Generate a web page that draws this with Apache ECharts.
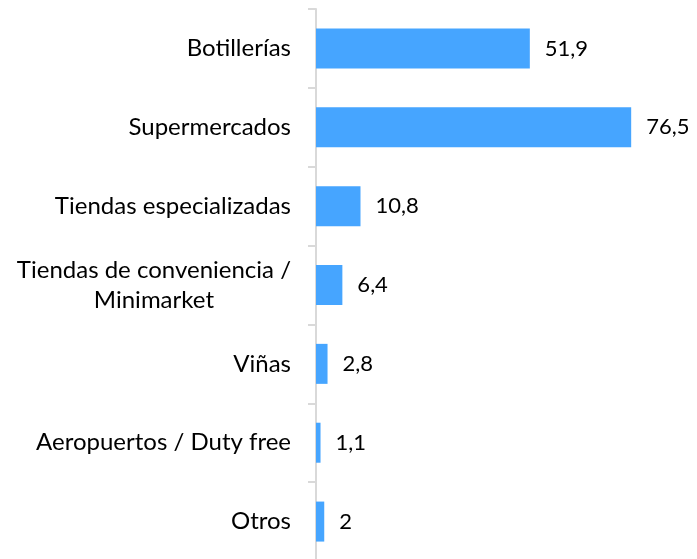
<!DOCTYPE html>
<html>
<head>
<meta charset="utf-8">
<script src="https://cdn.jsdelivr.net/npm/echarts@6/dist/echarts.min.js"></script>
<style>
  html, body { margin: 0; padding: 0; background: #fff; }
  #chart { width: 697px; height: 559px; }
</style>
</head>
<body>
<div id="chart"></div>
<script>
const categories = [
  "Botillerías",
  "Supermercados",
  "Tiendas especializadas",
  "Tiendas de conveniencia /\nMinimarket",
  "Viñas",
  "Aeropuertos / Duty free",
  "Otros"
];
const values = [51.9, 76.5, 10.8, 6.4, 2.8, 1.1, 2];

const FONT = "Lato, sans-serif";
const chart = echarts.init(document.getElementById("chart"));

chart.setOption({
  animation: false,
  grid: { left: 316, top: 9, width: 412, height: 552, outerBoundsMode: "none", containLabel: false },
  xAxis: {
    type: "value",
    min: 0,
    max: 100,
    show: false
  },
  yAxis: {
    type: "category",
    inverse: true,
    data: categories,
    axisLine: { lineStyle: { color: "#d9d9d9", width: 2 } },
    axisTick: { show: true, length: 8, lineStyle: { color: "#d9d9d9", width: 2 } },
    axisLabel: {
      margin: 25,
      color: "#000",
      fontFamily: FONT,
      fontSize: 24,
      // centre each line of the two-line label
      formatter: (v) => v.split("\n").map((s) => "{c|" + s + "}").join("\n"),
      rich: { c: { align: "center", fontFamily: FONT, fontSize: 24, color: "#000", lineHeight: 30 } }
    }
  },
  series: [{
    type: "bar",
    data: values,
    barWidth: 40,
    itemStyle: { color: "#46A5FF" },
    label: {
      show: true,
      position: "right",
      distance: 15,
      color: "#000",
      fontFamily: FONT,
      fontSize: 22,
      formatter: (p) => String(p.value).replace(".", ",")
    }
  }]
});
</script>
</body>
</html>
